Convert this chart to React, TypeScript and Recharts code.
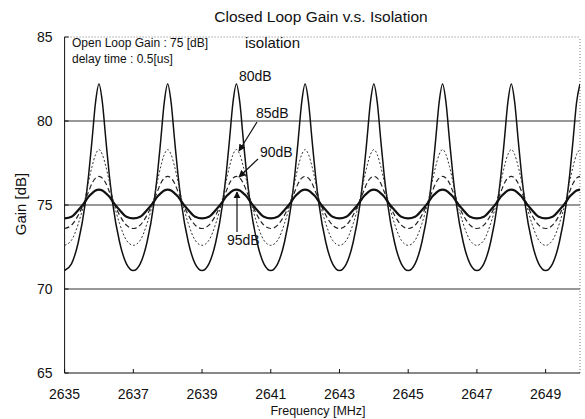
import React from "react";
import {
  LineChart,
  Line,
  XAxis,
  YAxis,
  ReferenceLine,
} from "recharts";

// frequency samples [MHz] (denser around each peak)
const freq = [
  2635, 2635.2, 2635.4, 2635.6, 2635.7, 2635.8, 2635.9, 2636, 2636.1, 2636.2, 2636.3, 2636.4, 2636.6, 2636.8,
  2637, 2637.2, 2637.4, 2637.6, 2637.7, 2637.8, 2637.9, 2638, 2638.1, 2638.2, 2638.3, 2638.4, 2638.6, 2638.8,
  2639, 2639.2, 2639.4, 2639.6, 2639.7, 2639.8, 2639.9, 2640, 2640.1, 2640.2, 2640.3, 2640.4, 2640.6, 2640.8,
  2641, 2641.2, 2641.4, 2641.6, 2641.7, 2641.8, 2641.9, 2642, 2642.1, 2642.2, 2642.3, 2642.4, 2642.6, 2642.8,
  2643, 2643.2, 2643.4, 2643.6, 2643.7, 2643.8, 2643.9, 2644, 2644.1, 2644.2, 2644.3, 2644.4, 2644.6, 2644.8,
  2645, 2645.2, 2645.4, 2645.6, 2645.7, 2645.8, 2645.9, 2646, 2646.1, 2646.2, 2646.3, 2646.4, 2646.6, 2646.8,
  2647, 2647.2, 2647.4, 2647.6, 2647.7, 2647.8, 2647.9, 2648, 2648.1, 2648.2, 2648.3, 2648.4, 2648.6, 2648.8,
  2649, 2649.2, 2649.4, 2649.6, 2649.7, 2649.8, 2649.9, 2650,
];

// isolation 80dB
const gain80 = [
  71.1, 71.5, 72.8, 75.1, 76.8, 78.9, 81.1, 82.2, 81.1, 78.9, 76.8, 75.1, 72.8, 71.5,
  71.1, 71.5, 72.8, 75.1, 76.8, 78.9, 81.1, 82.2, 81.1, 78.9, 76.8, 75.1, 72.8, 71.5,
  71.1, 71.5, 72.8, 75.1, 76.8, 78.9, 81.1, 82.2, 81.1, 78.9, 76.8, 75.1, 72.8, 71.5,
  71.1, 71.5, 72.8, 75.1, 76.8, 78.9, 81.1, 82.2, 81.1, 78.9, 76.8, 75.1, 72.8, 71.5,
  71.1, 71.5, 72.8, 75.1, 76.8, 78.9, 81.1, 82.2, 81.1, 78.9, 76.8, 75.1, 72.8, 71.5,
  71.1, 71.5, 72.8, 75.1, 76.8, 78.9, 81.1, 82.2, 81.1, 78.9, 76.8, 75.1, 72.8, 71.5,
  71.1, 71.5, 72.8, 75.1, 76.8, 78.9, 81.1, 82.2, 81.1, 78.9, 76.8, 75.1, 72.8, 71.5,
  71.1, 71.5, 72.8, 75.1, 76.8, 78.9, 81.1, 82.2,
];

// isolation 85dB
const gain85 = [
  72.6, 72.9, 73.9, 75.4, 76.4, 77.3, 78.0, 78.3, 78.0, 77.3, 76.4, 75.4, 73.9, 72.9,
  72.6, 72.9, 73.9, 75.4, 76.4, 77.3, 78.0, 78.3, 78.0, 77.3, 76.4, 75.4, 73.9, 72.9,
  72.6, 72.9, 73.9, 75.4, 76.4, 77.3, 78.0, 78.3, 78.0, 77.3, 76.4, 75.4, 73.9, 72.9,
  72.6, 72.9, 73.9, 75.4, 76.4, 77.3, 78.0, 78.3, 78.0, 77.3, 76.4, 75.4, 73.9, 72.9,
  72.6, 72.9, 73.9, 75.4, 76.4, 77.3, 78.0, 78.3, 78.0, 77.3, 76.4, 75.4, 73.9, 72.9,
  72.6, 72.9, 73.9, 75.4, 76.4, 77.3, 78.0, 78.3, 78.0, 77.3, 76.4, 75.4, 73.9, 72.9,
  72.6, 72.9, 73.9, 75.4, 76.4, 77.3, 78.0, 78.3, 78.0, 77.3, 76.4, 75.4, 73.9, 72.9,
  72.6, 72.9, 73.9, 75.4, 76.4, 77.3, 78.0, 78.3,
];

// isolation 90dB
const gain90 = [
  73.6, 73.8, 74.4, 75.3, 75.8, 76.3, 76.6, 76.7, 76.6, 76.3, 75.8, 75.3, 74.4, 73.8,
  73.6, 73.8, 74.4, 75.3, 75.8, 76.3, 76.6, 76.7, 76.6, 76.3, 75.8, 75.3, 74.4, 73.8,
  73.6, 73.8, 74.4, 75.3, 75.8, 76.3, 76.6, 76.7, 76.6, 76.3, 75.8, 75.3, 74.4, 73.8,
  73.6, 73.8, 74.4, 75.3, 75.8, 76.3, 76.6, 76.7, 76.6, 76.3, 75.8, 75.3, 74.4, 73.8,
  73.6, 73.8, 74.4, 75.3, 75.8, 76.3, 76.6, 76.7, 76.6, 76.3, 75.8, 75.3, 74.4, 73.8,
  73.6, 73.8, 74.4, 75.3, 75.8, 76.3, 76.6, 76.7, 76.6, 76.3, 75.8, 75.3, 74.4, 73.8,
  73.6, 73.8, 74.4, 75.3, 75.8, 76.3, 76.6, 76.7, 76.6, 76.3, 75.8, 75.3, 74.4, 73.8,
  73.6, 73.8, 74.4, 75.3, 75.8, 76.3, 76.6, 76.7,
];

// isolation 95dB
const gain95 = [
  74.2, 74.3, 74.7, 75.2, 75.5, 75.7, 75.86, 75.92, 75.86, 75.7, 75.5, 75.2, 74.7, 74.3,
  74.2, 74.3, 74.7, 75.2, 75.5, 75.7, 75.86, 75.92, 75.86, 75.7, 75.5, 75.2, 74.7, 74.3,
  74.2, 74.3, 74.7, 75.2, 75.5, 75.7, 75.86, 75.92, 75.86, 75.7, 75.5, 75.2, 74.7, 74.3,
  74.2, 74.3, 74.7, 75.2, 75.5, 75.7, 75.86, 75.92, 75.86, 75.7, 75.5, 75.2, 74.7, 74.3,
  74.2, 74.3, 74.7, 75.2, 75.5, 75.7, 75.86, 75.92, 75.86, 75.7, 75.5, 75.2, 74.7, 74.3,
  74.2, 74.3, 74.7, 75.2, 75.5, 75.7, 75.86, 75.92, 75.86, 75.7, 75.5, 75.2, 74.7, 74.3,
  74.2, 74.3, 74.7, 75.2, 75.5, 75.7, 75.86, 75.92, 75.86, 75.7, 75.5, 75.2, 74.7, 74.3,
  74.2, 74.3, 74.7, 75.2, 75.5, 75.7, 75.86, 75.92,
];

const xTicks = [2635, 2637, 2639, 2641, 2643, 2645, 2647, 2649];
const yTicks = [65, 70, 75, 80, 85];
const gridLines = [70, 75, 80];

const FONT = "'Liberation Sans', Arial, sans-serif";
const INK = "#111";

const data = freq.map((f, i) => ({
  f,
  g80: gain80[i],
  g85: gain85[i],
  g90: gain90[i],
  g95: gain95[i],
}));

export default function App() {
  return (
    <div
      style={{
        position: "absolute",
        left: 0,
        top: 0,
        width: 585,
        height: 419,
        background: "#fff",
        fontFamily: FONT,
      }}
    >
      <LineChart
        width={585}
        height={419}
        data={data}
        margin={{ top: 37, right: 5, bottom: 16, left: 14.6 }}
      >
        {/* negative tickSize -> Excel style ticks pointing into the plot */}
        <XAxis
          dataKey="f"
          type="number"
          domain={[2635, 2650]}
          ticks={xTicks}
          allowDataOverflow
          height={30}
          stroke={INK}
          tickSize={-4}
          tickMargin={20}
          tick={{ fill: INK, fontSize: 14, fontFamily: FONT }}
        />
        <YAxis
          type="number"
          domain={[65, 85]}
          ticks={yTicks}
          width={50}
          stroke={INK}
          tickSize={-4}
          tickMargin={16}
          tick={{ fill: INK, fontSize: 14, fontFamily: FONT }}
        />
        {gridLines.map((v) => (
          <ReferenceLine key={v} y={v} stroke="#333" strokeWidth={1} />
        ))}
        <ReferenceLine y={85} stroke="#777" strokeDasharray="1 2" />
        <ReferenceLine x={2650} stroke="#777" strokeDasharray="1 2" />
        <Line
          dataKey="g80"
          type="monotone"
          stroke={INK}
          strokeWidth={1.5}
          dot={false}
          isAnimationActive={false}
        />
        <Line
          dataKey="g85"
          type="monotone"
          stroke="#333"
          strokeWidth={1}
          strokeDasharray="2 2"
          dot={false}
          isAnimationActive={false}
        />
        <Line
          dataKey="g90"
          type="monotone"
          stroke="#222"
          strokeWidth={1.2}
          strokeDasharray="5 3"
          dot={false}
          isAnimationActive={false}
        />
        <Line
          dataKey="g95"
          type="monotone"
          stroke={INK}
          strokeWidth={2.2}
          dot={false}
          isAnimationActive={false}
        />
      </LineChart>

      {/* title, axis names and the isolation callouts */}
      <svg
        width={585}
        height={419}
        style={{ position: "absolute", left: 0, top: 0, pointerEvents: "none" }}
        fontFamily={FONT}
        fill={INK}
      >
        <defs>
          <marker
            id="ah"
            viewBox="0 0 10 10"
            refX="9"
            refY="5"
            markerWidth="6"
            markerHeight="6"
            orient="auto"
          >
            <path d="M0,0 L10,5 L0,10 z" fill={INK} />
          </marker>
        </defs>
        <text x={321} y={22} fontSize={15.5} textAnchor="middle">
          Closed Loop Gain v.s. Isolation
        </text>
        <text x={318} y={415} fontSize={12.5} textAnchor="middle">
          Frequency [MHz]
        </text>
        <text
          x={26}
          y={204}
          fontSize={15}
          textAnchor="middle"
          transform="rotate(-90 26 204)"
        >
          Gain [dB]
        </text>

        <text x={72} y={47} fontSize={12}>
          Open Loop Gain : 75 [dB]
        </text>
        <text x={72} y={63} fontSize={12}>
          delay time : 0.5[us]
        </text>
        <text x={245} y={48} fontSize={15}>
          isolation
        </text>
        <text x={239} y={81} fontSize={14}>
          80dB
        </text>
        <text x={256} y={118} fontSize={14}>
          85dB
        </text>
        <text x={260} y={157} fontSize={14}>
          90dB
        </text>
        <text x={227} y={245} fontSize={14}>
          95dB
        </text>

        <g stroke={INK} strokeWidth={1.2} fill="none">
          <line x1={257} y1={122} x2={239} y2={151} markerEnd="url(#ah)" />
          <line x1={258} y1={159} x2={239} y2={177} markerEnd="url(#ah)" />
          <line x1={237} y1={232} x2={237} y2={192} markerEnd="url(#ah)" />
        </g>
      </svg>
    </div>
  );
}
